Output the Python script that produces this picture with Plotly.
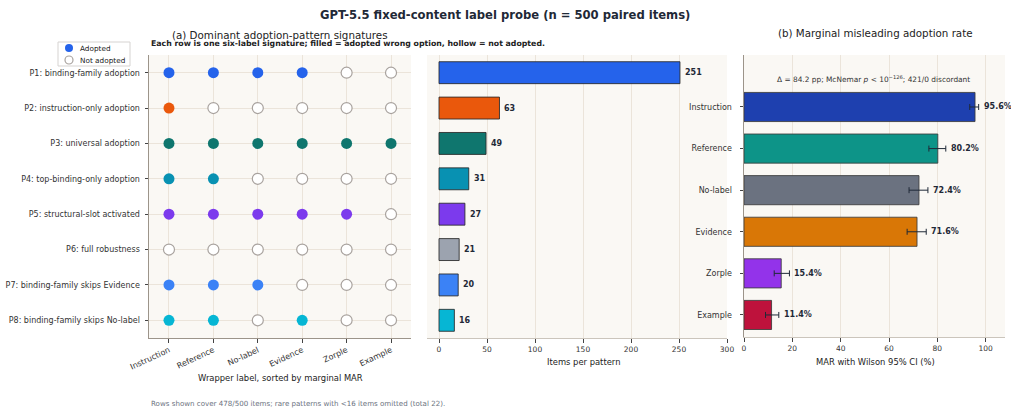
import plotly.graph_objects as go

W, H = 1011, 408

# ---------------- data ----------------
wrappers = ["Instruction", "Reference", "No-label", "Evidence", "Zorple", "Example"]
patterns = [
    "P1: binding-family adoption",
    "P2: instruction-only adoption",
    "P3: universal adoption",
    "P4: top-binding-only adoption",
    "P5: structural-slot activated",
    "P6: full robustness",
    "P7: binding-family skips Evidence",
    "P8: binding-family skips No-label",
]
signatures = [
    [1, 1, 1, 1, 0, 0],
    [1, 0, 0, 0, 0, 0],
    [1, 1, 1, 1, 1, 1],
    [1, 1, 0, 0, 0, 0],
    [1, 1, 1, 1, 1, 0],
    [0, 0, 0, 0, 0, 0],
    [1, 1, 1, 0, 0, 0],
    [1, 1, 0, 1, 0, 0],
]
pattern_counts = [251, 63, 49, 31, 27, 21, 20, 16]
pattern_colors = ["#2563eb", "#ea580c", "#0f766e", "#0891b2", "#7c3aed", "#9ca3af", "#3b82f6", "#06b6d4"]

mar_labels = ["Instruction", "Reference", "No-label", "Evidence", "Zorple", "Example"]
mar_values = [95.6, 80.2, 72.4, 71.6, 15.4, 11.4]
mar_ci_low = [93.4, 76.5, 68.3, 67.5, 12.5, 8.9]
mar_ci_high = [97.1, 83.5, 76.1, 75.4, 18.8, 14.4]
mar_colors = ["#1e40af", "#0d9488", "#6b7280", "#d97706", "#9333ea", "#be123c"]

legend_labels = ["Adopted", "Not adopted"]

# ---------------- helpers ----------------
def px_x(a, b):
    return [a / W, b / W]

def px_y(top, bottom):
    return [1 - bottom / H, 1 - top / H]

def fx_(p):
    return p / W

def fy_(p):
    return 1 - p / H

BG = "#faf8f4"
GRID = "#ebe4da"
SPINE = "#9c948a"
TXT = "#1f2937"
HOLLOW = "#a8a29e"
FONT = "DejaVu Sans"

fig = go.Figure()

# ---------------- panel (a): dot matrix ----------------
fx, fy, fc, hx, hy = [], [], [], [], []
for i, pat in enumerate(patterns):
    for j, w in enumerate(wrappers):
        if signatures[i][j]:
            fx.append(w); fy.append(pat); fc.append(pattern_colors[i])
        else:
            hx.append(w); hy.append(pat)

fig.add_trace(go.Scatter(
    x=fx, y=fy, mode="markers", xaxis="x", yaxis="y",
    marker=dict(size=11, color=fc, line=dict(width=0)),
    showlegend=False, hoverinfo="skip"))
fig.add_trace(go.Scatter(
    x=hx, y=hy, mode="markers", xaxis="x", yaxis="y",
    marker=dict(size=11, color="white", line=dict(width=1.2, color=HOLLOW)),
    showlegend=False, hoverinfo="skip"))

# ---------------- middle: items per pattern ----------------
fig.add_trace(go.Bar(
    x=pattern_counts, y=patterns, orientation="h", xaxis="x2", yaxis="y2",
    width=0.62,
    marker=dict(color=pattern_colors, line=dict(color="rgba(40,40,40,0.85)", width=1)),
    showlegend=False, hoverinfo="skip"))

# ---------------- right: MAR ----------------
fig.add_trace(go.Bar(
    x=mar_values, y=mar_labels, orientation="h", xaxis="x3", yaxis="y3",
    width=0.7,
    marker=dict(color=mar_colors, line=dict(color="rgba(60,60,60,0.85)", width=1)),
    error_x=dict(type="data", symmetric=False,
                 array=[h - v for h, v in zip(mar_ci_high, mar_values)],
                 arrayminus=[v - l for v, l in zip(mar_values, mar_ci_low)],
                 color="#1f2937", thickness=1, width=3),
    showlegend=False, hoverinfo="skip"))

ann = []
for c, p in zip(pattern_counts, patterns):
    ann.append(dict(x=c, y=p, xref="x2", yref="y2", text=f"<b>{c}</b>",
                    showarrow=False, xanchor="left", xshift=3,
                    font=dict(size=8, color=TXT)))
for v, h, lab in zip(mar_values, mar_ci_high, mar_labels):
    ann.append(dict(x=h, y=lab, xref="x3", yref="y3", text=f"<b>{v:.1f}%</b>",
                    showarrow=False, xanchor="left", xshift=3,
                    font=dict(size=8, color=TXT)))

title_font = dict(size=8.4, color="#222", family=FONT)

ann += [
    dict(x=fx_(505), y=fy_(15), xref="paper", yref="paper", showarrow=False,
         text="<b>GPT-5.5 fixed-content label probe (n = 500 paired items)</b>",
         font=dict(size=11.6, color=TXT), xanchor="center", yanchor="middle"),
    dict(x=fx_(280), y=fy_(35), xref="paper", yref="paper", showarrow=False,
         text="(a) Dominant adoption-pattern signatures",
         font=dict(size=10.3, color="#222"), xanchor="center", yanchor="middle"),
    dict(x=fx_(149), y=fy_(43.5), xref="paper", yref="paper", showarrow=False,
         text="<b>Each row is one six-label signature; filled = adopted wrong option, hollow = not adopted.</b>",
         font=dict(size=7.8, color="#222"), xanchor="left", yanchor="middle"),
    dict(x=fx_(875), y=fy_(33), xref="paper", yref="paper", showarrow=False,
         text="(b) Marginal misleading adoption rate",
         font=dict(size=10.3, color="#222"), xanchor="center", yanchor="middle"),
    dict(x=fx_(873), y=fy_(79), xref="paper", yref="paper", showarrow=False,
         text="Δ = 84.2 pp; McNemar <i>p</i> &lt; 10<sup>−126</sup>; 421/0 discordant",
         font=dict(size=7.4, color="#333"), xanchor="center", yanchor="middle"),
    dict(x=fx_(149), y=fy_(403), xref="paper", yref="paper", showarrow=False,
         text="Rows shown cover 478/500 items; rare patterns with &lt;16 items omitted (total 22).",
         font=dict(size=7.1, color="#6b7280"), xanchor="left", yanchor="middle"),
    # axis titles
    dict(x=fx_(280), y=fy_(378), xref="paper", yref="paper", showarrow=False,
         text="Wrapper label, sorted by marginal MAR", font=title_font,
         xanchor="center", yanchor="middle"),
    dict(x=fx_(583), y=fy_(362), xref="paper", yref="paper", showarrow=False,
         text="Items per pattern", font=title_font,
         xanchor="center", yanchor="middle"),
    dict(x=fx_(875), y=fy_(362), xref="paper", yref="paper", showarrow=False,
         text="MAR with Wilson 95% CI (%)", font=title_font,
         xanchor="center", yanchor="middle"),
    # legend texts
    dict(x=fx_(78), y=fy_(48), xref="paper", yref="paper", showarrow=False,
         text=legend_labels[0], font=dict(size=7.3, color="#222"),
         xanchor="left", yanchor="middle"),
    dict(x=fx_(78), y=fy_(60), xref="paper", yref="paper", showarrow=False,
         text=legend_labels[1], font=dict(size=7.3, color="#222"),
         xanchor="left", yanchor="middle"),
]

# manual legend box + swatches
shapes = [
    dict(type="rect", xref="paper", yref="paper",
         x0=fx_(58), x1=fx_(130), y0=fy_(66), y1=fy_(42),
         fillcolor="white", line=dict(color="#d6d3d1", width=1), layer="above"),
    dict(type="circle", xref="paper", yref="paper",
         x0=fx_(65), x1=fx_(73), y0=fy_(52), y1=fy_(44),
         fillcolor=pattern_colors[0], line=dict(width=0), layer="above"),
    dict(type="circle", xref="paper", yref="paper",
         x0=fx_(65), x1=fx_(73), y0=fy_(64), y1=fy_(56),
         fillcolor="white", line=dict(color=HOLLOW, width=1.2), layer="above"),
]

tick_font = dict(size=8, color="#333", family=FONT)
common = dict(showline=True, linecolor=SPINE, linewidth=1, ticks="outside",
              ticklen=3.5, tickcolor="#444", tickfont=tick_font, zeroline=False,
              gridcolor=GRID, gridwidth=1, automargin=False)

fig.update_layout(
    width=W, height=H, margin=dict(l=0, r=0, t=0, b=0, autoexpand=False),
    paper_bgcolor="white", plot_bgcolor=BG,
    font=dict(family=FONT, color="#222"),
    showlegend=False,
    annotations=ann,
    shapes=shapes,
    xaxis=dict(domain=px_x(149, 411), type="category",
               categoryorder="array", categoryarray=wrappers,
               range=[-0.45, 5.45], tickangle=-25, showgrid=True,
               anchor="y", **common),
    yaxis=dict(domain=px_y(55, 338), type="category",
               categoryorder="array", categoryarray=patterns,
               range=[7.5, -0.5], showgrid=True, anchor="x",
               ticklabelstandoff=3, **common),
    xaxis2=dict(domain=px_x(427, 727), range=[-12.5, 300],
                tickvals=[0, 50, 100, 150, 200, 250, 300], showgrid=True,
                anchor="y2", **{**common, "linecolor": "#cbc5bc",
                                "tickfont": dict(size=7.5, color="#333", family=FONT)}),
    yaxis2=dict(domain=px_y(55, 338), type="category",
                categoryorder="array", categoryarray=patterns,
                range=[7.5, -0.5], showticklabels=False, showgrid=False,
                showline=False, ticks="", anchor="x2", zeroline=False,
                automargin=False),
    xaxis3=dict(domain=px_x(744, 1005), range=[0, 108],
                tickvals=[0, 20, 40, 60, 80, 100], showgrid=True,
                anchor="y3", **{**common, "linecolor": "#cbc5bc",
                                "tickfont": dict(size=7.5, color="#333", family=FONT)}),
    yaxis3=dict(domain=px_y(55, 337), type="category",
                categoryorder="array", categoryarray=mar_labels[::-1],
                range=[-0.53, 6.25], showgrid=False, anchor="x3",
                ticklabelstandoff=6, **common),
)

fig.write_html("out.html",
               config={"displayModeBar": False},
               post_script="document.body.style.margin='0';document.body.style.overflow='hidden';")
